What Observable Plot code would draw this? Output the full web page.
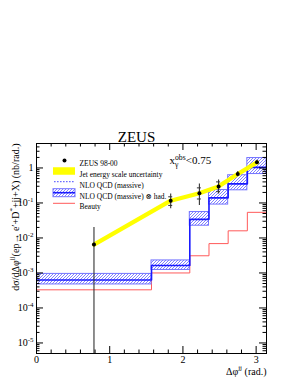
<!DOCTYPE html>
<html><head><meta charset="utf-8">
<script src="https://cdn.jsdelivr.net/npm/d3@7"></script>
<script src="https://cdn.jsdelivr.net/npm/@observablehq/plot@0.6"></script>
<style>html,body{margin:0;padding:0;background:#fff;} svg{display:block}</style>
</head><body>
<svg width="0" height="0" style="position:absolute">
<defs>
<pattern id="hatch" patternUnits="userSpaceOnUse" width="3" height="3">
<rect width="3" height="3" fill="#ffffff"/>
<path d="M-1,1 L1,-1 M0,3 L3,0 M2,4 L4,2" stroke="#4a4aff" stroke-width="0.7"/>
</pattern>
<pattern id="dash" patternUnits="userSpaceOnUse" width="3" height="3">
<rect width="1.6" height="3" fill="#4a4aff"/>
</pattern>
</defs></svg>
<div id="chart"></div>
<script>
// ---- data ----
const binEdges = [0, 1.571, 2.094, 2.356, 2.618, 2.880, 3.142];
const binCenters = [0.785, 1.833, 2.225, 2.487, 2.749, 3.011];
const zeusValues = [0.0065, 0.116, 0.19, 0.297, 0.67, 1.45];
const zeusErrHigh = [0.02, 0.18, 0.35, 0.45, 0.79, 1.65];
const zeusErrLow = [1e-7, 0.068, 0.084, 0.18, 0.56, 1.3];
const zeusStatHigh = [null, 0.15, 0.27, 0.40, null, null];
const zeusStatLow = [null, 0.085, 0.13, 0.21, null, null];
const nloHad = [6.3e-4, 1.63e-3, 0.034, 0.14, 0.35, 1.04];
const nloHadHigh = [9.4e-4, 2.28e-3, 0.055, 0.234, 0.62, 1.92];
const nloHadLow = [4.7e-4, 1.22e-3, 0.0224, 0.09, 0.23, 0.67];
const beauty = [3.3e-4, 1.0e-3, 3.1e-3, 6.9e-3, 0.016, 0.054];
const xTickValues = [0, 1, 2, 3];
const xTickLabels = ["0", "1", "2", "3"];
const yTickValues = [1e-5, 1e-4, 1e-3, 1e-2, 1e-1, 1];
const yTickLabels = ["10^{-5}", "10^{-4}", "10^{-3}", "10^{-2}", "10^{-1}", "1"];
const legendLabels = ["ZEUS 98-00", "Jet energy scale uncertainty", "NLO QCD (massive)", "NLO QCD (massive) ⊗ had.", "Beauty"];
const titleText = "ZEUS";
const cutText = "x_{γ}^{obs}<0.75";
const xLabel = "Δφ^{jj} (rad.)";
const yLabel = "dσ/dΔφ^{jj}(ep→ e′+D^{*}+jj+X) (nb/rad.)";

// ---- derived tables ----
const bins = binCenters.map((c, i) => ({
  lo: binEdges[i], hi: binEdges[i + 1], x: c,
  y: zeusValues[i], errHigh: zeusErrHigh[i], errLow: zeusErrLow[i],
  statHigh: zeusStatHigh[i], statLow: zeusStatLow[i],
  nlo: nloHad[i], nloHigh: nloHadHigh[i], nloLow: nloHadLow[i], beauty: beauty[i]
}));
const steps = (vals) => vals.flatMap((v, i) => [{x: binEdges[i], y: v}, {x: binEdges[i + 1], y: v}]);
const statPts = bins.filter(d => d.statHigh != null).flatMap(d => [{x: d.x, y: d.statHigh}, {x: d.x, y: d.statLow}]);

const xMinor = d3.range(0.2, 3.15, 0.2).filter(v => Math.abs(v - Math.round(v)) > 0.05);
const yMinor = [];
for (let e = -6; e <= 0; e++) for (let k = 2; k <= 9; k++) {
  const v = k * Math.pow(10, e);
  if (v >= 5e-6 && v <= 5) yMinor.push(v);
}

const W = 295, H = 382, ML = 36, MR = 29, MT = 143, MB = 29;
const FW = W - ML - MR, FH = H - MT - MB;
const BLUE = "#1a1aff", RED = "#ff5a5a", LBLUE = "#7373ff";

const legendRect = (cy, h, opts) => Plot.rect([0], {
  insetLeft: 17, insetRight: FW - 39, insetTop: cy - h / 2, insetBottom: FH - cy - h / 2, ...opts
});
const rowDy = [17, 28, 38.7, 49.7, 60.3];

const chart = Plot.plot({
  width: W, height: H,
  marginLeft: ML, marginRight: MR, marginTop: MT, marginBottom: MB,
  style: {fontFamily: "'Liberation Serif', 'DejaVu Serif', serif", fontSize: "10px", background: "white", color: "black"},
  x: {domain: [0, Math.PI], axis: null},
  y: {type: "log", domain: [5e-6, 5], axis: null},
  marks: [
    // beauty
    Plot.line(steps(beauty), {x: "x", y: "y", stroke: RED, strokeWidth: 1, clip: true}),
    // NLO band
    Plot.rect(bins, {x1: "lo", x2: "hi", y1: "nloLow", y2: "nloHigh", fill: "url(#hatch)", stroke: LBLUE, strokeWidth: 1, clip: true}),
    Plot.line(steps(nloHad), {x: "x", y: "y", stroke: BLUE, strokeWidth: 1.6, clip: true}),
    // jet energy scale band
    Plot.line(bins, {x: "x", y: "y", stroke: "#ffff00", strokeWidth: 4.3, clip: true}),
    // errors
    Plot.ruleX(bins, {x: "x", y1: "errLow", y2: "errHigh", stroke: "#333", strokeWidth: 1.1, clip: true}),
    Plot.ruleY(statPts, {x1: "x", x2: "x", y: "y", insetLeft: -2, insetRight: -2, stroke: "#333", strokeWidth: 1}),
    Plot.dot(bins, {x: "x", y: "y", r: 2, fill: "black"}),
    // frame and ticks
    Plot.frame({stroke: "black", strokeWidth: 1}),
    Plot.ruleX(xTickValues, {x: d => d, insetTop: FH - 7, stroke: "black"}),
    Plot.ruleX(xMinor, {x: d => d, insetTop: FH - 3.5, stroke: "black"}),
    Plot.ruleX(xTickValues, {x: d => d, insetBottom: FH - 7, stroke: "black"}),
    Plot.ruleX(xMinor, {x: d => d, insetBottom: FH - 3.5, stroke: "black"}),
    Plot.ruleY(yTickValues, {y: d => d, insetRight: FW - 7, stroke: "black"}),
    Plot.ruleY(yMinor, {y: d => d, insetRight: FW - 3.5, stroke: "black"}),
    Plot.ruleY(yTickValues, {y: d => d, insetLeft: FW - 7, stroke: "black"}),
    Plot.ruleY(yMinor, {y: d => d, insetLeft: FW - 3.5, stroke: "black"}),
    // tick labels
    Plot.text(xTickValues, {x: d => d, frameAnchor: "bottom", dy: 9, text: (d, i) => xTickLabels[i], fontSize: 10}),
    Plot.text(yTickValues, {y: d => d, frameAnchor: "left", dx: -3, textAnchor: "end", text: (d, i) => yTickLabels[i], fontSize: 10}),
    // axis titles
    Plot.text([xLabel], {frameAnchor: "bottom-right", dy: 21, textAnchor: "end", text: d => d, fontSize: 10}),
    Plot.text([yLabel], {frameAnchor: "top-left", rotate: -90, textAnchor: "end", dx: -25, text: d => d, fontSize: 10}),
    // title + cut label
    Plot.text([titleText], {frameAnchor: "top", dx: -15, dy: -12, text: d => d, fontSize: 15}),
    Plot.text([cutText], {frameAnchor: "top-left", dx: 133, dy: 13, textAnchor: "start", text: d => d, fontSize: 11}),
    // legend
    Plot.dot([0], {frameAnchor: "top-left", dx: 28, dy: rowDy[0], r: 2, fill: "black"}),
    legendRect(rowDy[1], 7.5, {fill: "#ffff00"}),
    legendRect(rowDy[2], 1, {fill: "url(#dash)"}),
    legendRect(rowDy[3], 8, {fill: "url(#hatch)", stroke: LBLUE, strokeWidth: 1}),
    legendRect(rowDy[3], 1.6, {fill: BLUE}),
    legendRect(rowDy[4], 1, {fill: RED}),
    ...legendLabels.map((t, i) => Plot.text([t], {frameAnchor: "top-left", dx: 43, dy: rowDy[i], textAnchor: "start", text: d => d, fontSize: 7.5}))
  ]
});
document.getElementById("chart").appendChild(chart);

// rich text: ^{sup} and _{sub}
function richify(svg) {
  svg.querySelectorAll("text").forEach(t => {
    const s = t.textContent;
    if (!/[\^_]\{/.test(s)) return;
    const fs = parseFloat(getComputedStyle(t).fontSize) || 10;
    const re = /([\^_])\{([^}]*)\}/g;
    const parts = [];
    let last = 0, m;
    while ((m = re.exec(s))) {
      if (m.index > last) parts.push({type: "n", s: s.slice(last, m.index)});
      parts.push({type: m[1] === "^" ? "sup" : "sub", s: m[2]});
      last = re.lastIndex;
    }
    if (last < s.length) parts.push({type: "n", s: s.slice(last)});
    t.textContent = "";
    const NS = "http://www.w3.org/2000/svg";
    let shift = 0, prev = null, prevEl = null;
    parts.forEach(p => {
      const el = document.createElementNS(NS, "tspan");
      const target = p.type === "sup" ? -0.42 * fs : p.type === "sub" ? 0.28 * fs : 0;
      if (target !== shift) el.setAttribute("dy", target - shift);
      shift = target;
      if (p.type !== "n") el.setAttribute("font-size", 0.7 * fs);
      el.textContent = p.s;
      t.appendChild(el);
      if (p.type === "sup" && prev === "sub" && prevEl) {
        el.setAttribute("dx", -prevEl.getComputedTextLength());
      }
      prev = p.type; prevEl = el;
    });
  });
}
richify(chart);
</script>
</body></html>
